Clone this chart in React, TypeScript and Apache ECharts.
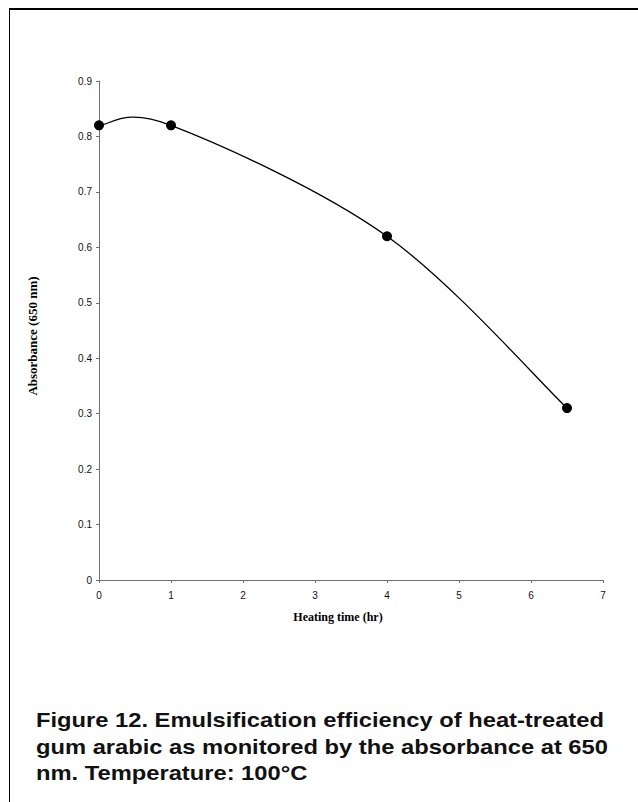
import React, { useEffect, useRef } from "react";
import * as echarts from "echarts";

const hours = [0, 1, 4, 6.5];
const absorbance = [0.82, 0.82, 0.62, 0.31];
const yTicks = [0, 0.1, 0.2, 0.3, 0.4, 0.5, 0.6, 0.7, 0.8, 0.9];
const xTicks = [0, 1, 2, 3, 4, 5, 6, 7];
const xTitle = "Heating time (hr)";
const yTitle = "Absorbance (650 nm)";
const captionLines = [
  "Figure 12. Emulsification efficiency of heat-treated",
  "gum arabic as monitored by the absorbance at 650",
  "nm. Temperature: 100\u00B0C",
];

export default function App() {
  const ref = useRef<HTMLDivElement>(null);
  useEffect(() => {
    if (!ref.current) return;
    const chart = echarts.init(ref.current, null, { renderer: "svg" });
    const axisGray = "#707070";
    const points = hours.map((h, i) => [h, absorbance[i]]);
    chart.setOption({
      animation: false,
      backgroundColor: "#ffffff",
      grid: { left: 99, right: 35, top: 81, bottom: 222, containLabel: false },
      xAxis: {
        type: "value",
        min: xTicks[0],
        max: xTicks[xTicks.length - 1],
        interval: 1,
        axisLine: { show: true, onZero: false, lineStyle: { color: axisGray, width: 1 } },
        axisTick: { show: true, length: 3, lineStyle: { color: axisGray } },
        axisLabel: { color: "#111", fontFamily: "Liberation Sans, Arial", fontSize: 10, margin: 10 },
        splitLine: { show: false },
      },
      yAxis: {
        type: "value",
        min: yTicks[0],
        max: yTicks[yTicks.length - 1],
        interval: 0.1,
        axisLine: { show: true, lineStyle: { color: axisGray, width: 1 } },
        axisTick: { show: true, length: 3, lineStyle: { color: axisGray } },
        axisLabel: {
          color: "#111",
          fontFamily: "Liberation Sans, Arial",
          fontSize: 10,
          margin: 7,
          formatter: (v: number) => (Math.abs(v) < 1e-9 ? "0" : String(Math.round(v * 10) / 10)),
        },
        splitLine: { show: false },
      },
      series: [
        {
          type: "custom",
          data: [points[0]],
          encode: { x: 0, y: 1 },
          silent: true,
          z: 2,
          renderItem: (params: any, api: any) => {
            const p = points.map((pt) => api.coord(pt));
            const n = p.length;
            const get = (i: number) => p[Math.max(0, Math.min(n - 1, i))];
            let d = `M${p[0][0]},${p[0][1]}`;
            for (let i = 0; i < n - 1; i++) {
              const p0 = get(i - 1), p1 = get(i), p2 = get(i + 1), p3 = get(i + 2);
              const c1x = p1[0] + (p2[0] - p0[0]) / 6;
              const c1y = p1[1] + (p2[1] - p0[1]) / 6;
              const c2x = p2[0] - (p3[0] - p1[0]) / 6;
              const c2y = p2[1] - (p3[1] - p1[1]) / 6;
              d += ` C${c1x},${c1y} ${c2x},${c2y} ${p2[0]},${p2[1]}`;
            }
            return {
              type: "path",
              shape: { pathData: d },
              style: { stroke: "#000", fill: "none", lineWidth: 1.3 },
            };
          },
        },
        {
          type: "scatter",
          data: points,
          symbol: "circle",
          symbolSize: 10,
          z: 3,
          itemStyle: { color: "#000", opacity: 1 },
        },
      ],
      graphic: [
        { type: "line", shape: { x1: 9, y1: 9, x2: 638, y2: 9 }, style: { stroke: "#000", lineWidth: 2 } },
        { type: "line", shape: { x1: 9.5, y1: 9, x2: 9.5, y2: 802 }, style: { stroke: "#000", lineWidth: 1 } },
        {
          type: "text",
          x: 338,
          y: 617,
          style: {
            text: xTitle,
            font: "bold 12px 'Liberation Serif', 'Times New Roman', serif",
            fill: "#000",
            align: "center",
            verticalAlign: "middle",
          },
        },
        {
          type: "text",
          x: 32,
          y: 336,
          rotation: Math.PI / 2,
          style: {
            text: yTitle,
            font: "bold 13px 'Liberation Serif', 'Times New Roman', serif",
            fill: "#000",
            align: "center",
            verticalAlign: "middle",
          },
        },
        ...captionLines.map((t, i) => ({
          type: "text",
          x: 36,
          y: 720 + i * 26.5,
          scaleX: 1.13,
          style: {
            text: t,
            font: "bold 21px 'Liberation Sans', Arial, sans-serif",
            fill: "#111",
            align: "left",
            verticalAlign: "middle",
          },
        })),
      ],
    });
    return () => chart.dispose();
  }, []);
  return (
    <div
      ref={ref}
      style={{ position: "absolute", left: 0, top: 0, width: 638, height: 802, background: "#fff" }}
    />
  );
}
